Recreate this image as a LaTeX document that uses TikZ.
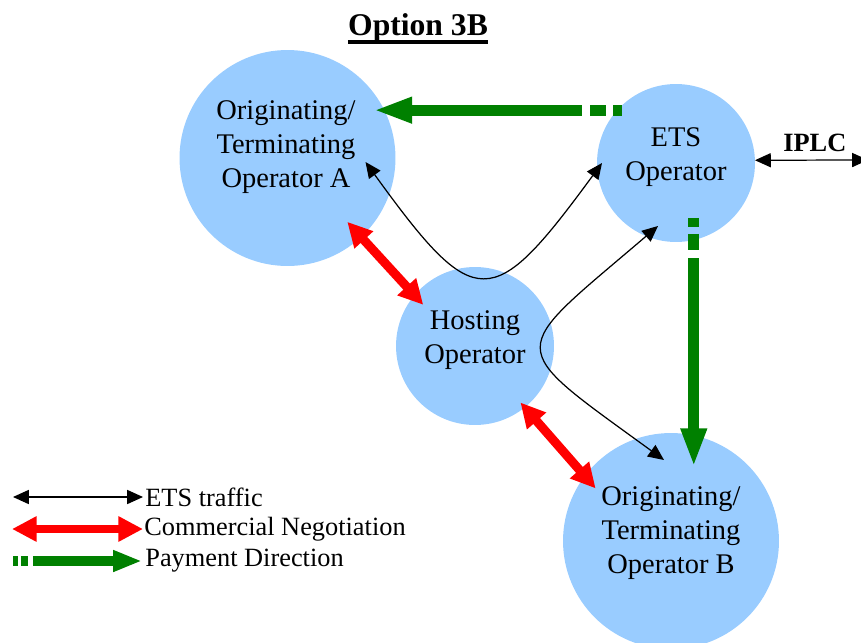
\documentclass[tikz,border=0pt]{standalone}
\usepackage{fontspec}
\setmainfont{Liberation Serif}
\usetikzlibrary{arrows.meta,positioning,calc}
\definecolor{Sky}{HTML}{99CCFF}
\definecolor{Neg}{HTML}{FF0000}
\definecolor{Pay}{HTML}{008000}
\newcommand{\opfont}{\fontsize{16.2pt}{19.3pt}\selectfont}
\newcommand{\legfont}{\fontsize{15pt}{18pt}\selectfont}
\tikzset{
  op/.style={circle,fill=Sky,draw=none,inner sep=0pt,outer sep=0pt,minimum size=3.16cm},
  bigop/.style={op,minimum size=4.32cm},
  optext/.style={align=center,font=\opfont,inner sep=0pt},
  traffic/.style={{Triangle[length=9pt,width=8pt]}-{Triangle[length=9pt,width=8pt]},line width=.7pt,draw=black},
  nego/.style={{Triangle[length=14pt,width=13.6pt]}-{Triangle[length=14pt,width=13.6pt]},line width=5.1pt,draw=Neg},
  pay/.style={-{Triangle[length=22pt,width=13.6pt]},line width=6.2pt,draw=Pay,
    dash pattern=on 5.1pt off 4pt on 9.1pt off 4.6pt on 800pt off 0pt},
  legtext/.style={anchor=base west,inner sep=0pt,font=\legfont}
}
\begin{document}
\begin{tikzpicture}[x=0.02cm,y=-0.02cm]
  \useasboundingbox (0,0) rectangle (861,642);
  % operators
  \node[bigop] (a) at (287.5,158) {};
  \node[op] (ets) at (676,163) {};
  \node[op] (host) at (475,346) {};
  \node[bigop] (b) at (671,541) {};
  \node[optext] (a-txt) at (286,147) {Originating/\\Terminating\\Operator A};
  \node[optext] (ets-txt) at (676,157) {ETS\\Operator};
  \node[optext] (host-txt) at (475,340) {Hosting\\Operator};
  \node[optext] (b-txt) at (671,533) {Originating/\\Terminating\\Operator B};
  \node[font=\fontsize{18pt}{21pt}\selectfont\bfseries,inner sep=0pt,anchor=base] (title) at (418,36) {Option 3B};
  \draw[line width=2pt] ([shift={(0,6)}]title.base west) -- ([shift={(0,6)}]title.base east);
  % commercial negotiation
  \draw[nego,shorten <=-11.7pt,shorten >=-7.4pt] (a.-47) -- (host.140);
  \draw[nego,shorten <=-3.7pt,shorten >=-9.4pt] (host.-51) -- (b.143);
  % payment direction
  \draw[pay,shorten <=-2.6pt,shorten >=-6.3pt] (ets.138) -- (a.26 |- ets.138);
  \draw[pay,shorten <=-12.5pt,shorten >=-18pt] (ets.-77) -- (ets.-77 |- b.78);
  % ETS traffic
  \draw[traffic] ([shift={(78,4)}]a.center) .. controls +(110,152) and +(-110,150) .. ([shift={(-74,0)}]ets.center);
  \draw[traffic] ([shift={(-18,63)}]ets.center) .. controls +(-152,130) and +(-162,-118) .. ([shift={(-7,-81)}]b.center);
  \coordinate (iplc-end) at (868,160);
  \draw[traffic] (ets.2) -- node[pos=.53,above=4.5pt,inner sep=0pt,font=\legfont\bfseries] (iplc) {IPLC} (iplc-end);
  % legend
  \coordinate (l1a) at (13,497); \coordinate (l1b) at (143,497);
  \coordinate (l2a) at (12,529); \coordinate (l2b) at (143,529);
  \coordinate (l3a) at (13,561); \coordinate (l3b) at (142,561);
  \draw[traffic] (l1a) -- (l1b);
  \draw[nego] (l2a) -- (l2b);
  \draw[pay,-{Triangle[length=16.4pt,width=11.3pt]},dash pattern=on 2.8pt off 1.7pt on 4pt off 2.8pt on 800pt off 0pt] (l3a) -- (l3b);
  \node[legtext] (leg1) at (145,506) {ETS traffic};
  \node[legtext] (leg2) at (144,535) {Commercial Negotiation};
  \node[legtext] (leg3) at (145,566) {Payment Direction};
\end{tikzpicture}
\end{document}
